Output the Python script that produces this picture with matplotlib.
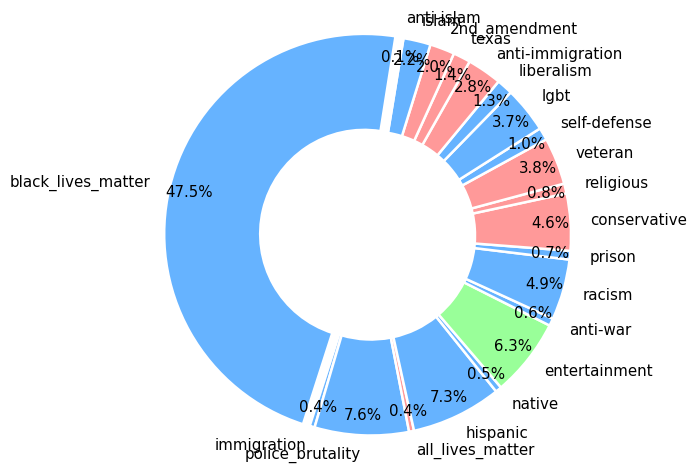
import matplotlib
matplotlib.use("Agg")
import matplotlib.pyplot as plt

# topic shares (%) in drawing order, counter-clockwise
topics = ['black_lives_matter', 'immigration', 'police_brutality', 'all_lives_matter',
          'hispanic', 'native', 'entertainment', 'anti-war', 'racism', 'prison',
          'conservative', 'religious', 'veteran', 'self-defense', 'lgbt', 'liberalism',
          'anti-immigration', 'texas', '2nd_amendment', 'islam', 'anti-islam']
shares = [47.5, 0.4, 7.6, 0.4, 7.3, 0.5, 6.3, 0.6, 4.9, 0.7,
          4.6, 0.8, 3.8, 1.0, 3.7, 1.3, 2.8, 1.4, 2.0, 2.2, 0.1]
leaning = ['left', 'left', 'left', 'right', 'left', 'left', 'neutral', 'left', 'left', 'left',
           'right', 'right', 'right', 'left', 'left', 'left', 'right', 'right', 'right', 'left', 'right']

palette = {'left': '#66b3ff', 'right': '#ff9999', 'neutral': '#99ff99'}
colors = [palette[g] for g in leaning]
explode = [0.035 if t == 'black_lives_matter' else 0 for t in topics]

fig = plt.figure(figsize=(6.89, 4.68), dpi=100)
ax = fig.add_axes([0, 0, 1, 1])

ax.pie(shares, labels=topics, colors=colors, explode=explode,
       autopct='%1.1f%%', pctdistance=0.9, labeldistance=1.1,
       startangle=81, textprops={'fontsize': 10.8},
       wedgeprops={'width': 0.48, 'edgecolor': 'white', 'linewidth': 1.8})

# place the pie: centre at (371, 235.5) px, radius 200 px
r_px, cx, cy = 200.0, 371.0, 235.5
W, H = 689, 468
ax.set_aspect('auto')
ax.set_xlim(-cx / r_px, (W - cx) / r_px)
ax.set_ylim(-(H - cy) / r_px, cy / r_px)
ax.axis('off')

fig.savefig('out.png', dpi=100)
